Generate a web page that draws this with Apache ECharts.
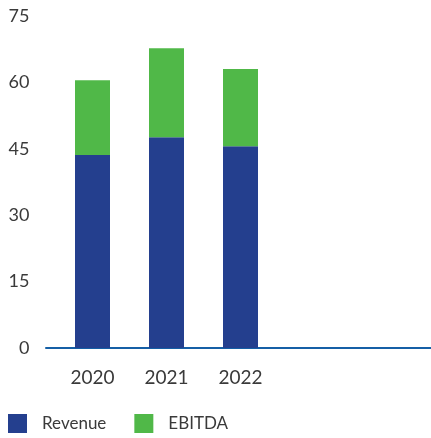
<!DOCTYPE html>
<html>
<head>
<meta charset="utf-8">
<script src="https://cdn.jsdelivr.net/npm/echarts@6/dist/echarts.min.js"></script>
<style>
  html, body { margin: 0; padding: 0; background: #fff; }
  #chart { width: 431px; height: 438px; }
</style>
</head>
<body>
<div id="chart"></div>
<script>
  var years = ['2020', '2021', '2022', '', '']
  var revenue = [43.6, 47.6, 45.6]
  var ebitda = [16.9, 20.1, 17.4]
  var yTicks = [0, 15, 30, 45, 60, 75]

  var labelColor = '#3a3a3a'
  var font = 'Lato'

  var myChart = echarts.init(document.getElementById('chart'))
  myChart.setOption({
    animation: false,
    grid: [{
      left: 55.5,
      width: 370,
      top: 16,
      bottom: 90
    }, {
      // only used to draw the long baseline
      left: 46,
      right: 0,
      top: 16,
      bottom: 90
    }],
    legend: {
      left: 3,
      top: 409,
      itemWidth: 19,
      itemHeight: 19,
      itemGap: 28,
      icon: 'rect',
      textStyle: {
        color: labelColor,
        fontFamily: font,
        fontSize: 17,
        padding: [0, 0, 0, 10]
      },
      data: ['Revenue', 'EBITDA']
    },
    xAxis: [{
      type: 'category',
      gridIndex: 0,
      data: years,
      axisLine: { show: false },
      axisTick: { show: false },
      axisLabel: {
        color: labelColor,
        fontFamily: font,
        fontSize: 19,
        margin: 20
      }
    }, {
      type: 'value',
      gridIndex: 1,
      min: 0,
      max: 1,
      axisLine: { show: true, onZero: false, lineStyle: { color: '#155fa6', width: 2 } },
      axisTick: { show: false },
      axisLabel: { show: false },
      splitLine: { show: false }
    }],
    yAxis: [{
      type: 'value',
      gridIndex: 0,
      min: yTicks[0],
      max: yTicks[yTicks.length - 1],
      interval: yTicks[1] - yTicks[0],
      axisLine: { show: false },
      axisTick: { show: false },
      splitLine: { show: false },
      axisLabel: {
        color: labelColor,
        fontFamily: font,
        fontSize: 18,
        margin: 26
      }
    }, {
      type: 'value',
      gridIndex: 1,
      min: 0,
      max: 1,
      show: false
    }],
    series: [{
      name: 'Revenue',
      type: 'bar',
      stack: 'total',
      xAxisIndex: 0,
      yAxisIndex: 0,
      barWidth: 35,
      data: revenue,
      itemStyle: { color: '#243f8e' }
    }, {
      name: 'EBITDA',
      type: 'bar',
      stack: 'total',
      xAxisIndex: 0,
      yAxisIndex: 0,
      barWidth: 35,
      data: ebitda,
      itemStyle: { color: '#50b848' }
    }]
  })
</script>
</body>
</html>
